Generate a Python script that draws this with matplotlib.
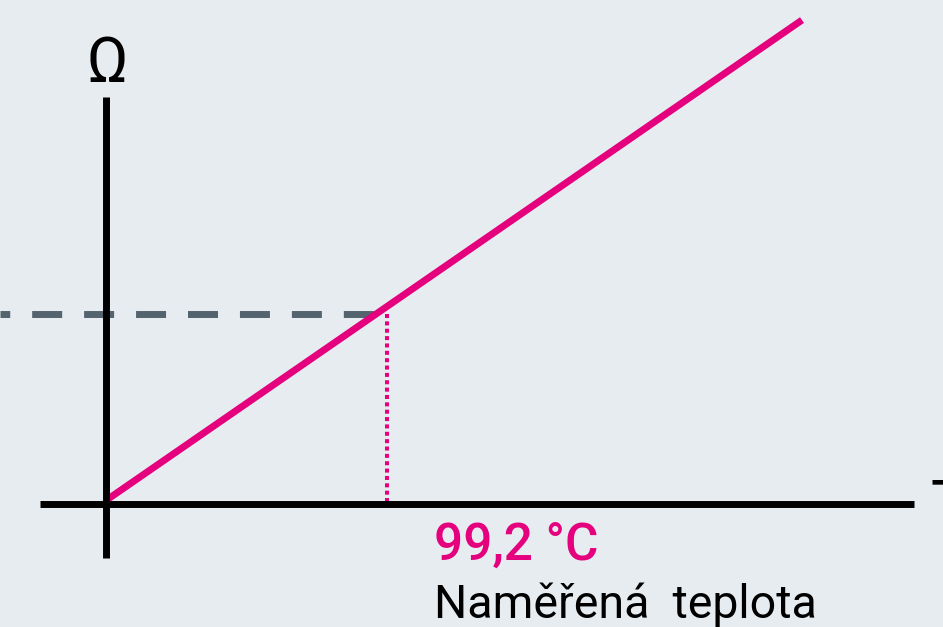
import matplotlib as mpl
mpl.use('Agg')
import matplotlib.pyplot as plt
from matplotlib import font_manager

# measured point (temperature in degC, resistance in ohm)
t_meas = 99.2
r_meas = 138.2

# characteristic line of the sensor
line_t = [0.7, 245.7]
line_r = [3.6, 352.0]

# axis extents
x_axis_t = [-23.3, 285.2]
y_axis_r = [-39.3, 296.0]
dash_start_t = -37.4

label_value = ('%.1f' % t_meas).replace('.', ',') + ' °C'
label_text = 'Naměřená  teplota'
label_y = 'Ω'
label_x = 'T'

BG = '#e7ecf0'
PINK = '#e5007d'
GREY = '#53646e'

names = {f.name for f in font_manager.fontManager.ttflist}
font = 'Roboto' if 'Roboto' in names else 'DejaVu Sans'
plt.rcParams['font.family'] = [font, 'DejaVu Sans']
plt.rcParams['lines.scale_dashes'] = False

fig = plt.figure(figsize=(9.43, 6.27), dpi=100, facecolor=BG)
ax = fig.add_axes([0, 0, 1, 1])
ax.set_facecolor(BG)
ax.set_xlim(-37.42, 295.48)
ax.set_ylim(-89.47, 366.6)
ax.axis('off')

# dashed reading of the resistance
ax.plot([dash_start_t, t_meas], [r_meas, r_meas], color=GREY, lw=5.0,
        linestyle=(14.6, (21.6, 15.8)), dash_capstyle='butt', zorder=1)

# dotted drop to the temperature axis
ax.plot([t_meas, t_meas], [r_meas, 0], color=PINK, lw=2.9,
        linestyle=(0, (2.9, 2.4)), dash_capstyle='butt', zorder=1)

# characteristic
ax.plot(line_t, line_r, color=PINK, lw=5.0, solid_capstyle='butt', zorder=2)

# axes
ax.plot(x_axis_t, [0, 0], color='black', lw=5.0, solid_capstyle='butt', zorder=3)
ax.plot([0, 0], y_axis_r, color='black', lw=5.0, solid_capstyle='butt', zorder=3)

ax.text(0.35, 307, label_y, fontsize=45, ha='center', va='baseline', color='black')
ax.text(290.9, -15.3, label_x, fontsize=45, ha='left', va='baseline', color='black')
ax.text(115.8, -40.7, label_value, fontsize=37, ha='left', va='baseline',
        color=PINK, fontweight='medium')
ax.text(115.8, -82.9, label_text, fontsize=33.5, ha='left', va='baseline', color='black')

plt.savefig('out.png', dpi=100, facecolor=BG)
